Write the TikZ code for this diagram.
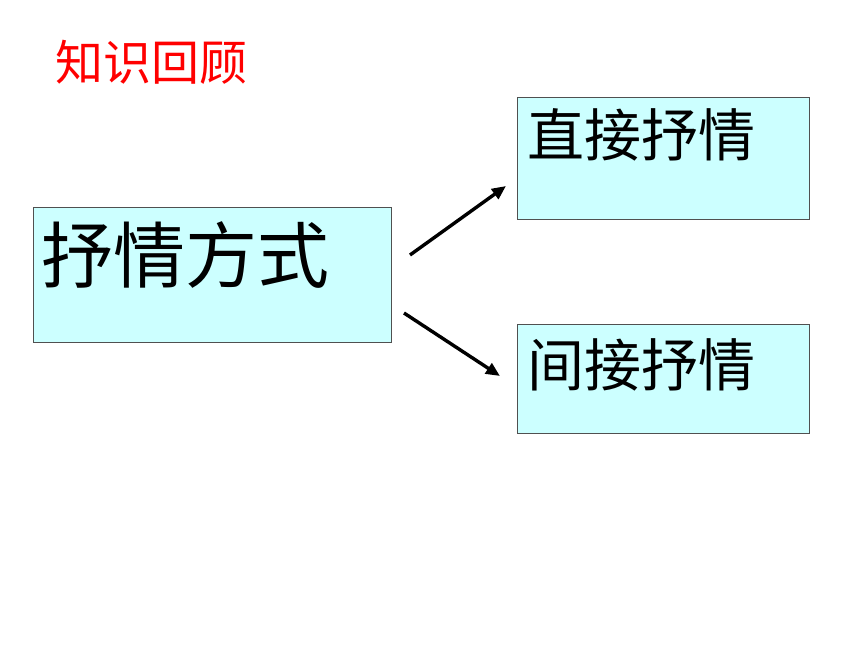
\documentclass[tikz,border=0pt]{standalone}
\usepackage{fontspec}
\newfontfamily\cjk{Noto Sans CJK SC}
\usetikzlibrary{arrows.meta}
\definecolor{boxfill}{HTML}{CCFFFF}
\definecolor{boxline}{HTML}{505050}
\tikzset{
  box/.style={draw=boxline, fill=boxfill, line width=1pt, inner sep=0pt, anchor=north west},
  lbl/.style={anchor=base west, inner sep=0pt, font=\cjk},
  arr/.style={line width=3.4pt, -{Triangle[length=14pt,width=12pt]}}
}
\begin{document}
\begin{tikzpicture}[x=1pt,y=-1pt]
\useasboundingbox (0,0) rectangle (860,645);
\node[lbl, text=red, font=\cjk\fontsize{48}{50}\selectfont] (title) at (55,80) {知识回顾};
\node[box, minimum width=358pt, minimum height=135pt] (b1) at (33,207) {};
\node[box, minimum width=292pt, minimum height=122pt] (b2) at (517,97) {};
\node[box, minimum width=292pt, minimum height=109pt] (b3) at (517,324) {};
\node[lbl, font=\cjk\fontsize{72}{76}\selectfont] (t1) at (41,282) {抒情方式};
\node[lbl, font=\cjk\fontsize{57}{60}\selectfont] (t2) at (527,156) {直接抒情};
\node[lbl, font=\cjk\fontsize{57}{60}\selectfont] (t3) at (527,386) {间接抒情};
\coordinate (a1s) at (410,255);
\coordinate (a1e) at (506,186);
\coordinate (a2s) at (404,313);
\coordinate (a2e) at (500,376);
\draw[arr] (a1s) -- (a1e);
\draw[arr] (a2s) -- (a2e);
\end{tikzpicture}
\end{document}
